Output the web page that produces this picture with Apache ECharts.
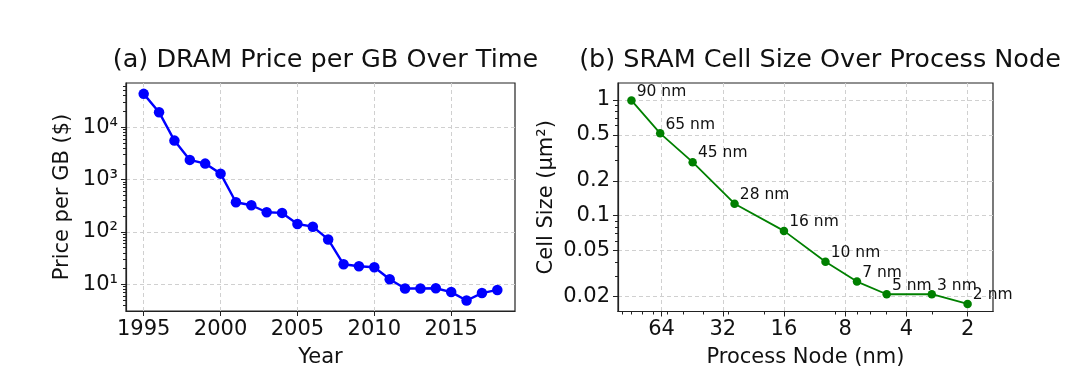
<!DOCTYPE html>
<html>
<head>
<meta charset="utf-8">
<script src="https://cdn.jsdelivr.net/npm/echarts@6/dist/echarts.min.js"></script>
<style>
html,body{margin:0;padding:0;background:#fff;}
#c{width:1080px;height:382px;}
</style>
</head>
<body>
<div id="c"></div>
<script>
// ---- Data ----
const years = [1995,1996,1997,1998,1999,2000,2001,2002,2003,2004,2005,2006,2007,2008,2009,2010,2011,2012,2013,2014,2015,2016,2017,2018];
const dramPrice = [43400,19400,5560,2380,2020,1300,369,324,238,231,142,126,72,24.1,22.1,21.2,12.5,8.3,8.3,8.4,7.1,4.9,6.8,7.8];

const nodeNm = [90,65,45,28,16,10,7,5,3,2];
const nodeLabels = ['90 nm','65 nm','45 nm','28 nm','16 nm','10 nm','7 nm','5 nm','3 nm','2 nm'];
const cellSize = [0.99,0.515,0.29,0.127,0.074,0.040,0.027,0.021,0.021,0.0173];

const yearTicks = [1995,2000,2005,2010,2015];
const priceTicks = [10,100,1000,10000];
const priceMinor = [4,5,6,7,8,9,20,30,40,50,60,70,80,90,200,300,400,500,600,700,800,900,2000,3000,4000,5000,6000,7000,8000,9000,20000,30000,40000,50000,60000];
const nodeTicks = [64,32,16,8,4,2];
const nodeMinor = [3,5,6,7,9,20,30,40,50,60,70,80,90,100];
const sizeTicks = [1,0.5,0.2,0.1,0.05,0.02];
const sizeMinor = [0.03,0.04,0.06,0.07,0.08,0.09,0.3,0.4,0.6,0.7,0.8,0.9];

const sup = {'1':'\u00b9','2':'\u00b2','3':'\u00b3','4':'\u2074','5':'\u2075'};

// ---- Styling ----
const FONT = 'DejaVu Sans';
const TXT = '#111';
const gridLine = {show:true, lineStyle:{color:'#d0d0d0', type:[4,3], width:1}};
const tickFont = {fontFamily:FONT, fontSize:21, color:TXT};
const nameFont = {fontFamily:FONT, fontSize:21, color:TXT};

const chart = echarts.init(document.getElementById('c'), null, {renderer:'canvas'});

function minorAxis(base, values, pos){
  return Object.assign({}, base, {
    name:'', position:pos, axisLine:{show:false}, splitLine:{show:false},
    axisLabel:{show:false},
    axisTick:{show:true, length:3, lineStyle:{color:'#222', width:1}, customValues:values}
  });
}

const x0 = {type:'value', gridIndex:0, position:'bottom', min:1993.85, max:2019.15,
  name:'Year', nameLocation:'middle', nameGap:36, nameTextStyle:nameFont,
  axisLine:{show:true, onZero:false, lineStyle:{color:'#222', width:1.2}},
  axisTick:{show:true, length:5, lineStyle:{color:'#222', width:1}, customValues:yearTicks},
  axisLabel:Object.assign({margin:8, customValues:yearTicks, formatter:function(v){return String(Math.round(v));}}, tickFont),
  splitLine:gridLine};

const y0 = {type:'log', logBase:10, gridIndex:0, position:'left', min:3.09, max:70000,
  name:'Price per GB ($)', nameLocation:'middle', nameGap:52.5, nameTextStyle:nameFont,
  axisLine:{show:true, lineStyle:{color:'#222', width:1.2}},
  axisTick:{show:true, length:5, lineStyle:{color:'#222', width:1}, customValues:priceTicks},
  axisLabel:Object.assign({margin:8, customValues:priceTicks,
    formatter:function(v){const e=Math.round(Math.log10(v)); return '10'+sup[String(e)];}}, tickFont),
  splitLine:gridLine};

const x1 = {type:'log', logBase:2, gridIndex:1, position:'bottom', min:1.50, max:104.8, inverse:true,
  name:'Process Node (nm)', nameLocation:'middle', nameGap:36, nameTextStyle:nameFont,
  axisLine:{show:true, onZero:false, lineStyle:{color:'#222', width:1.2}},
  axisTick:{show:true, length:5, lineStyle:{color:'#222', width:1}, customValues:nodeTicks},
  axisLabel:Object.assign({margin:8, customValues:nodeTicks, formatter:function(v){return String(Math.round(v));}}, tickFont),
  splitLine:gridLine};

const y1 = {type:'log', logBase:10, gridIndex:1, position:'left', min:0.0149, max:1.40,
  name:'Cell Size (\u03bcm\u00b2)', nameLocation:'middle', nameGap:61, nameTextStyle:nameFont,
  axisLine:{show:true, lineStyle:{color:'#222', width:1.2}},
  axisTick:{show:true, length:5, lineStyle:{color:'#222', width:1}, customValues:sizeTicks},
  axisLabel:Object.assign({margin:8, customValues:sizeTicks, formatter:function(v){return String(+v.toPrecision(3));}}, tickFont),
  splitLine:gridLine};

const option = {
  backgroundColor:'#fff',
  animation:false,
  title:[
    {text:'(a) DRAM Price per GB Over Time', left:320.5, top:42, textAlign:'center',
     textStyle:{fontFamily:FONT, fontSize:25.5, fontWeight:'normal', color:TXT}},
    {text:'(b) SRAM Cell Size Over Process Node', left:815, top:42, textAlign:'center',
     textStyle:{fontFamily:FONT, fontSize:25.5, fontWeight:'normal', color:TXT}}
  ],
  grid:[
    {left:126, right:565, top:83, bottom:71, show:true, borderColor:'#222', borderWidth:1.2, backgroundColor:'transparent', containLabel:false},
    {left:618, right:87, top:83, bottom:70.5, show:true, borderColor:'#222', borderWidth:1.2, backgroundColor:'transparent', containLabel:false}
  ],
  xAxis:[x0, x1, minorAxis(x1, nodeMinor, 'bottom')],
  yAxis:[y0, minorAxis(y0, priceMinor, 'left'), y1, minorAxis(y1, sizeMinor, 'left')],
  series:[
    {type:'line', xAxisIndex:0, yAxisIndex:0,
     data:years.map((y,i)=>[y, dramPrice[i]]),
     symbol:'circle', symbolSize:10.5, showAllSymbol:true,
     lineStyle:{color:'#0000ff', width:2.4}, itemStyle:{color:'#0000ff'}},
    {type:'line', xAxisIndex:1, yAxisIndex:2,
     data:nodeNm.map((n,i)=>[n, cellSize[i]]),
     symbol:'circle', symbolSize:8.5, showAllSymbol:true, clip:false,
     lineStyle:{color:'#008000', width:1.8}, itemStyle:{color:'#008000'},
     label:{show:true, position:[9.5,-4.5], align:'left', verticalAlign:'middle',
       formatter:function(p){return nodeLabels[p.dataIndex];},
       fontFamily:FONT, fontSize:15.5, color:TXT}}
  ]
};
chart.setOption(option);
</script>
</body>
</html>
